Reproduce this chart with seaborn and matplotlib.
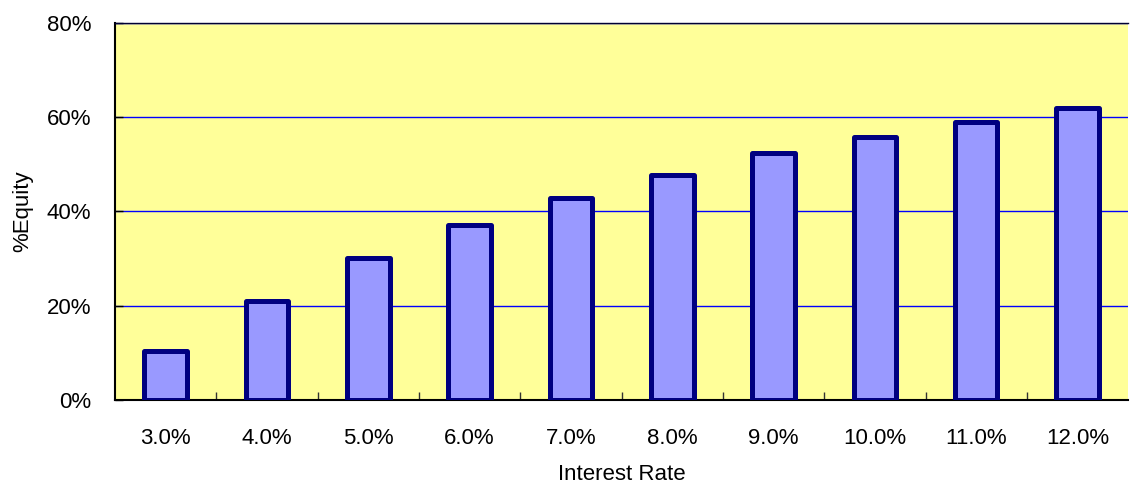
import matplotlib
matplotlib.use("Agg")
import matplotlib.pyplot as plt
import seaborn as sns
import pandas as pd
from matplotlib.ticker import FuncFormatter, FixedLocator

# Chart data
rates = ["3.0%", "4.0%", "5.0%", "6.0%", "7.0%", "8.0%", "9.0%", "10.0%", "11.0%", "12.0%"]
equity = [0.103, 0.211, 0.301, 0.371, 0.429, 0.478, 0.523, 0.557, 0.589, 0.619]

df = pd.DataFrame({"rate": rates, "equity": equity})

sns.set_style("white")
plt.rcParams["font.family"] = ["Liberation Sans", "DejaVu Sans"]
plt.rcParams["text.color"] = "black"
plt.rcParams["xtick.color"] = "black"
plt.rcParams["ytick.color"] = "black"
plt.rcParams["axes.labelcolor"] = "black"

fig = plt.figure(figsize=(11.32, 4.86), dpi=100)
ax = fig.add_axes([0.1016, 0.177, 0.895, 0.776])
ax.set_facecolor("#FFFF99")

sns.barplot(data=df, x="rate", y="equity", ax=ax, color="#9999FF", width=0.42,
            edgecolor="#000080", linewidth=3.6, saturation=1, zorder=3)
for p in ax.patches:
    p.set_joinstyle("round")

ax.set_ylim(0, 0.8)
ax.set_xlim(-0.5, len(rates) - 0.5)
ax.set_yticks([0, 0.2, 0.4, 0.6, 0.8])
ax.yaxis.set_major_formatter(FuncFormatter(lambda v, _: f"{v*100:.0f}%"))
ax.yaxis.grid(True, color="#0000FF", linewidth=1.0, zorder=0)
ax.set_axisbelow(True)

# tick marks between categories, category labels without marks
ax.tick_params(axis="x", which="major", length=0, pad=20, labelsize=16)
ax.xaxis.set_minor_locator(FixedLocator([i + 0.5 for i in range(len(rates) - 1)]))
ax.tick_params(axis="x", which="minor", direction="in", length=6, width=1, color="#333333", bottom=True)
ax.tick_params(axis="y", direction="in", length=6, width=1, left=True, labelsize=16, pad=17)

ax.set_xlabel("Interest Rate", fontsize=16, labelpad=11)
ax.set_ylabel("%Equity", fontsize=16, labelpad=10)

for side in ["left", "bottom"]:
    ax.spines[side].set_color("black")
    ax.spines[side].set_linewidth(1.5)
ax.spines["top"].set_color("#000033")
ax.spines["top"].set_linewidth(1.0)
ax.spines["right"].set_visible(False)

fig.savefig("out.png", dpi=100)
